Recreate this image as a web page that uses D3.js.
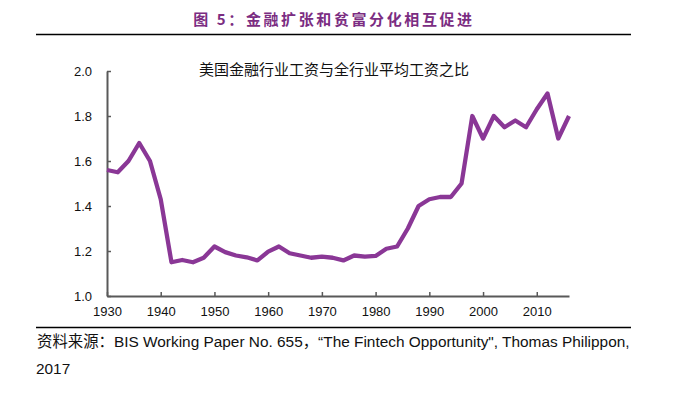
<!DOCTYPE html>
<html>
<head>
<meta charset="utf-8">
<script src="https://cdn.jsdelivr.net/npm/d3@7"></script>
<style>
  body { margin: 0; background: #fff; }
  svg { display: block; }
</style>
</head>
<body>
<svg width="688" height="395"></svg>
<script>
// data, one point every two years
const years = [1930, 1932, 1934, 1936, 1938, 1940, 1942, 1944, 1946, 1948,
  1950, 1952, 1954, 1956, 1958, 1960, 1962, 1964, 1966, 1968,
  1970, 1972, 1974, 1976, 1978, 1980, 1982, 1984, 1986, 1988,
  1990, 1992, 1994, 1996, 1998, 2000, 2002, 2004, 2006, 2008,
  2010, 2012, 2014, 2016];
const ratio = [1.56, 1.55, 1.60, 1.68, 1.60, 1.43, 1.15, 1.16, 1.15, 1.17,
  1.22, 1.195, 1.18, 1.172, 1.158, 1.197, 1.22, 1.19, 1.18, 1.17,
  1.175, 1.17, 1.158, 1.18, 1.175, 1.178, 1.21, 1.22, 1.30, 1.40,
  1.43, 1.44, 1.44, 1.50, 1.80, 1.70, 1.80, 1.75, 1.78, 1.75,
  1.83, 1.90, 1.70, 1.80];
const xTicks = [1930, 1940, 1950, 1960, 1970, 1980, 1990, 2000, 2010];
const yTicks = [1.0, 1.2, 1.4, 1.6, 1.8, 2.0];

const figTitle = "图 5：金融扩张和贫富分化相互促进";
const chartTitle = "美国金融行业工资与全行业平均工资之比";
const source = "资料来源：BIS Working Paper No. 655，“The Fintech Opportunity\", Thomas Philippon,";
const source2 = "2017";

const svg = d3.select("svg");
const purple = "#8a3796";
const axisGrey = "#595959";

// figure heading
svg.append("text")
  .attr("x", 334)
  .attr("y", 25)
  .attr("text-anchor", "middle")
  .attr("fill", "#7b2d82")
  .style("font-family", "'Noto Sans CJK SC', sans-serif")
  .style("font-weight", "bold")
  .style("font-size", "15px")
  .style("letter-spacing", "2.6px")
  .text(figTitle);

svg.append("line")
  .attr("x1", 36).attr("x2", 631)
  .attr("y1", 34.5).attr("y2", 34.5)
  .attr("stroke", "#000").attr("stroke-width", 1.5);

const x = d3.scaleLinear().domain([1930, 2016]).range([107, 569]);
const y = d3.scaleLinear().domain([1, 2]).range([296, 71]);

const xAxis = svg.append("g")
  .attr("transform", "translate(0,296)")
  .call(d3.axisBottom(x).tickValues(xTicks).tickFormat(d3.format("d"))
    .tickSizeInner(-4).tickSizeOuter(0).tickPadding(11));

const yAxis = svg.append("g")
  .attr("transform", "translate(107,0)")
  .call(d3.axisLeft(y).tickValues(yTicks).tickFormat(d3.format(".1f"))
    .tickSizeInner(-4).tickSizeOuter(0).tickPadding(15));

[xAxis, yAxis].forEach(function(a) {
  a.select(".domain").attr("stroke", axisGrey).attr("stroke-width", 2);
  a.selectAll(".tick line").attr("stroke", axisGrey).attr("stroke-width", 1.5);
  a.selectAll(".tick text")
    .attr("fill", "#111")
    .style("font-family", "'Liberation Sans', Arial, sans-serif")
    .style("font-size", "13px");
});

const line = d3.line()
  .x(function(d, i) { return x(years[i]); })
  .y(function(d) { return y(d); });

svg.append("path")
  .datum(ratio)
  .attr("fill", "none")
  .attr("stroke", purple)
  .attr("stroke-width", 4.3)
  .attr("stroke-linejoin", "round")
  .attr("d", line);

svg.append("text")
  .attr("x", 334)
  .attr("y", 75)
  .attr("text-anchor", "middle")
  .attr("fill", "#111")
  .style("font-family", "'Noto Sans CJK SC', sans-serif")
  .style("font-size", "15px")
  .text(chartTitle);

// source block
svg.append("line")
  .attr("x1", 36).attr("x2", 631)
  .attr("y1", 327.5).attr("y2", 327.5)
  .attr("stroke", "#000").attr("stroke-width", 1.5);

svg.append("text")
  .attr("x", 37)
  .attr("y", 347)
  .attr("fill", "#111")
  .style("font-family", "'Liberation Sans', 'Noto Sans CJK SC', sans-serif")
  .style("font-size", "15.4px")
  .text(source);

svg.append("text")
  .attr("x", 36)
  .attr("y", 374)
  .attr("fill", "#111")
  .style("font-family", "'Liberation Sans', sans-serif")
  .style("font-size", "15.4px")
  .text(source2);
</script>
</body>
</html>
